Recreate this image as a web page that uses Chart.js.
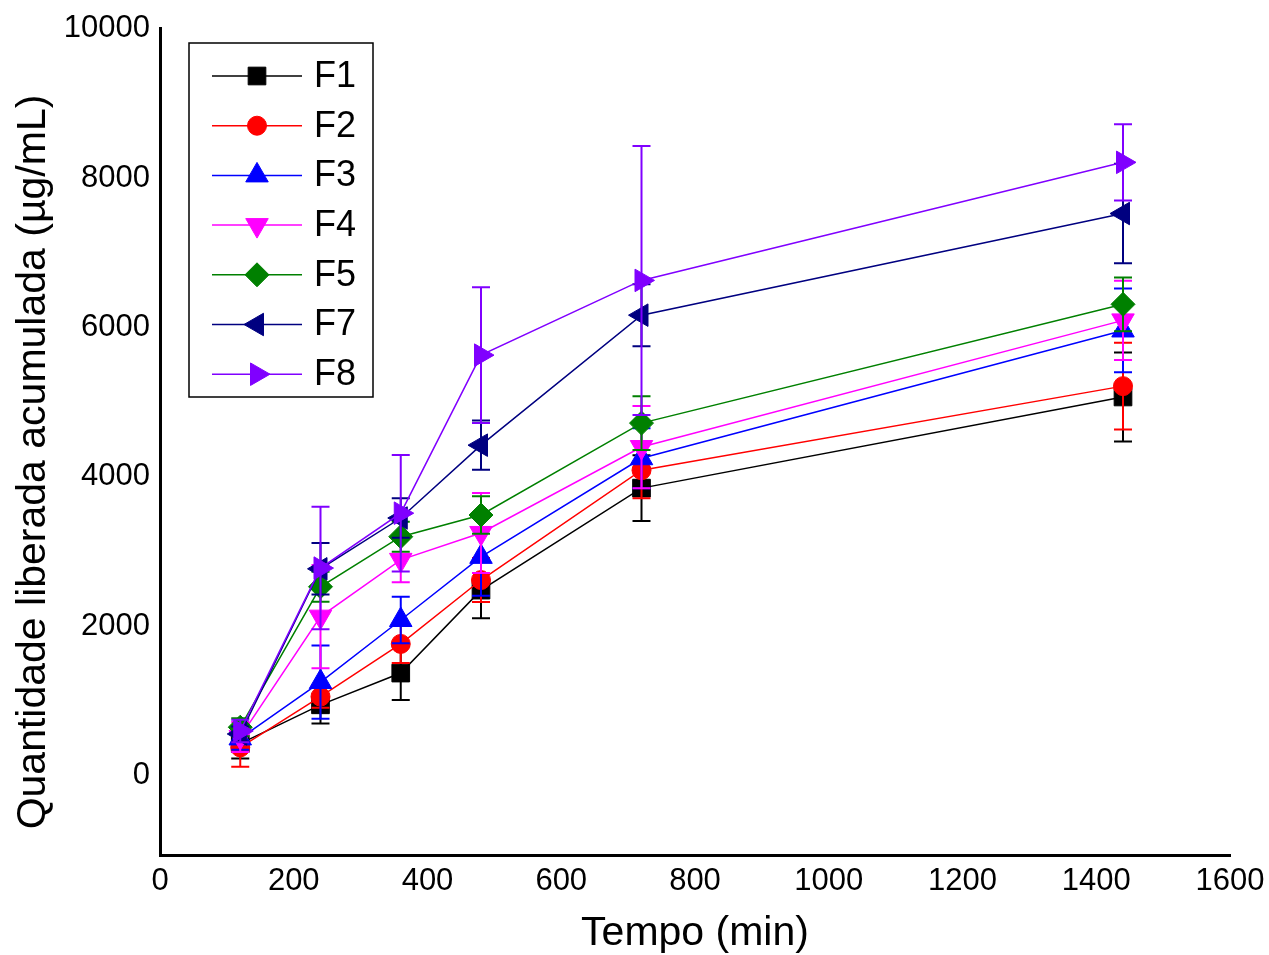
<!DOCTYPE html>
<html>
<head>
<meta charset="utf-8">
<script src="https://cdn.jsdelivr.net/npm/chart.js@4.4.1/dist/chart.umd.min.js"></script>
<style>
  html, body { margin: 0; padding: 0; background: #ffffff; }
  #wrap { width: 1269px; height: 955px; position: relative; }
</style>
</head>
<body>
<div id="wrap"><canvas id="c" width="1269" height="955"></canvas></div>
<script>
// ---- data ----
const times = [120, 240, 360, 480, 720, 1440];
const seriesNames = ['F1', 'F2', 'F3', 'F4', 'F5', 'F7', 'F8'];
const F1 = [430, 950, 1375, 2485, 3850, 5070];
const F2 = [380, 1060, 1765, 2620, 4090, 5215];
const F3 = [500, 1255, 2085, 2930, 4250, 5960];
const F4 = [520, 2130, 2890, 3250, 4400, 6095];
const F5 = [650, 2530, 3200, 3490, 4720, 6310];
const F7 = [560, 2770, 3450, 4425, 6165, 7525];
const F8 = [600, 2780, 3515, 5630, 6630, 8210];
const F1err = [200, 250, 360, 375, 440, 595];
const F2err = [260, 150, 255, 295, 375, 580];
const F3err = [150, 490, 310, 520, 400, 560];
const F4err = [200, 690, 300, 535, 550, 530];
const F5err = [120, 200, 200, 250, 360, 360];
const F7err = [100, 345, 265, 330, 415, 665];
const F8err = [150, 820, 780, 910, 1800, 510];
const xTicks = [0, 200, 400, 600, 800, 1000, 1200, 1400, 1600];
const yTicks = [0, 2000, 4000, 6000, 8000, 10000];
const xTitle = 'Tempo (min)';
const yTitle = 'Quantidade liberada acumulada (\u00B5g/mL)';

// ---- styles ----
const values = [F1, F2, F3, F4, F5, F7, F8];
const errors = [F1err, F2err, F3err, F4err, F5err, F7err, F8err];
const colors = ['#000000', '#ff0000', '#0000ff', '#ff00ff', '#008000', '#000080', '#8000ff'];
const styles = [
  { pointStyle: 'rect', rotation: 0, radius: 12.5 },
  { pointStyle: 'circle', rotation: 0, radius: 9.5 },
  { pointStyle: 'triangle', rotation: 0, radius: 13 },
  { pointStyle: 'triangle', rotation: 180, radius: 13 },
  { pointStyle: 'rectRot', rotation: 0, radius: 12 },
  { pointStyle: 'triangle', rotation: 270, radius: 13 },
  { pointStyle: 'triangle', rotation: 90, radius: 13 }
];
const FONT = '"Liberation Sans", Arial, sans-serif';

const datasets = seriesNames.map((name, i) => ({
  label: name,
  data: times.map((t, j) => ({ x: t, y: values[i][j] })),
  errors: errors[i],
  borderColor: colors[i],
  backgroundColor: colors[i],
  pointBackgroundColor: colors[i],
  pointBorderColor: colors[i],
  borderWidth: 1.5,
  pointBorderWidth: 1,
  pointStyle: styles[i].pointStyle,
  pointRotation: styles[i].rotation,
  pointRadius: styles[i].radius,
  pointHoverRadius: styles[i].radius,
  tension: 0,
  fill: false,
  order: seriesNames.length - i
}));

const errorBars = {
  id: 'errorBars',
  afterDatasetDraw(chart, args) {
    const ds = chart.data.datasets[args.index];
    const meta = args.meta;
    const ys = chart.scales.y;
    const ctx = chart.ctx;
    ctx.save();
    ctx.strokeStyle = ds.borderColor;
    ctx.lineWidth = 2;
    meta.data.forEach((pt, j) => {
      const v = ds.data[j].y, e = ds.errors[j];
      const x = pt.x;
      const yTop = ys.getPixelForValue(v + e);
      const yBot = ys.getPixelForValue(v - e);
      ctx.beginPath();
      ctx.moveTo(x, yTop); ctx.lineTo(x, yBot);
      ctx.moveTo(x - 9, yTop); ctx.lineTo(x + 9, yTop);
      ctx.moveTo(x - 9, yBot); ctx.lineTo(x + 9, yBot);
      ctx.stroke();
    });
    ctx.restore();
  }
};

const boxLegend = {
  id: 'boxLegend',
  afterDraw(chart) {
    const ctx = chart.ctx;
    const x0 = 189, y0 = 43, w = 184, h = 354;
    ctx.save();
    ctx.strokeStyle = '#000';
    ctx.lineWidth = 1.5;
    ctx.strokeRect(x0, y0, w, h);
    chart.data.datasets.forEach((ds, i) => {
      const y = 76 + i * 49.7;
      ctx.strokeStyle = ds.borderColor;
      ctx.lineWidth = 1.5;
      ctx.beginPath(); ctx.moveTo(212, y); ctx.lineTo(302, y); ctx.stroke();
      ctx.fillStyle = ds.pointBackgroundColor;
      ctx.lineWidth = 1;
      Chart.helpers.drawPoint(ctx, {
        pointStyle: ds.pointStyle, rotation: ds.pointRotation,
        radius: ds.pointRadius, borderWidth: 1
      }, 257, y);
      ctx.fillStyle = '#000';
      ctx.font = '36px ' + FONT;
      ctx.textAlign = 'left';
      ctx.textBaseline = 'middle';
      ctx.fillText(ds.label, 314, y + 1);
    });
    // y axis title
    ctx.translate(34, 462);
    ctx.rotate(-Math.PI / 2);
    ctx.fillStyle = '#000';
    ctx.font = '41px ' + FONT;
    ctx.textAlign = 'center';
    ctx.textBaseline = 'middle';
    ctx.fillText(yTitle, 0, 0);
    ctx.restore();
  }
};

new Chart(document.getElementById('c'), {
  type: 'line',
  data: { datasets },
  options: {
    responsive: false,
    animation: false,
    events: [],
    layout: { padding: { left: 0, right: 0, top: 28, bottom: 0 } },
    plugins: { legend: { display: false }, tooltip: { enabled: false } },
    scales: {
      x: {
        type: 'linear', min: 0, max: 1600,
        afterBuildTicks: (axis) => { axis.ticks = xTicks.map(v => ({ value: v })); },
        afterFit: (axis) => { axis.height = 100; axis.paddingRight = 39; axis.paddingLeft = 0; },
        grid: { display: false, drawTicks: false, tickLength: 0 },
        border: { display: true, color: '#000', width: 3 },
        ticks: { color: '#000', font: { family: FONT, size: 31 }, padding: 8, maxRotation: 0, autoSkip: false,
                 callback: (v) => String(v) },
        title: { display: true, text: xTitle, color: '#000', font: { family: FONT, size: 41 }, padding: { top: 0, bottom: -3 } }
      },
      y: {
        type: 'linear', min: -1060, max: 10000,
        afterBuildTicks: (axis) => { axis.ticks = yTicks.map(v => ({ value: v })); },
        afterFit: (axis) => { axis.width = 160; },
        grid: { display: false, drawTicks: false, tickLength: 0 },
        border: { display: true, color: '#000', width: 3 },
        ticks: { color: '#000', font: { family: FONT, size: 31 }, padding: 10, callback: (v) => String(v) }
      }
    }
  },
  plugins: [errorBars, boxLegend]
});
</script>
</body>
</html>
